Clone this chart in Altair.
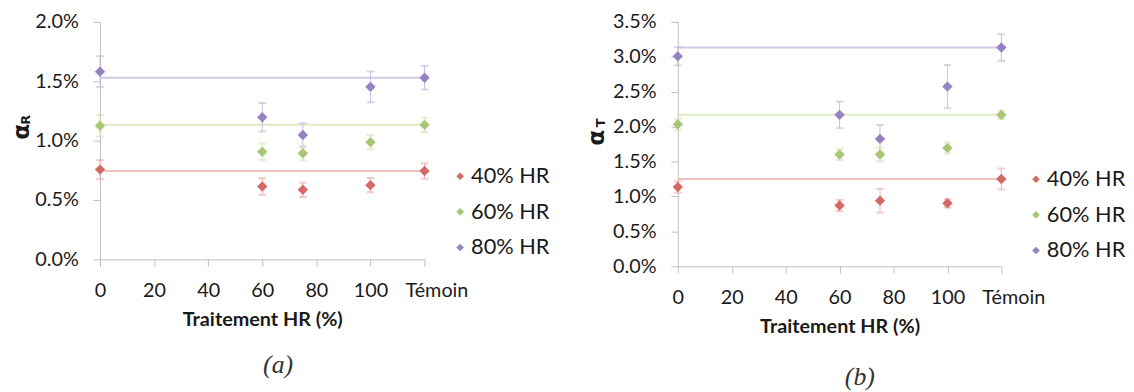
import altair as alt
import pandas as pd

# ---------------- data ----------------
SERIES = ["40% HR", "60% HR", "80% HR"]
TREATMENT = [0, 60, 75, 100, 120]          # 120 = "Témoin"
X_TICKS = [0, 20, 40, 60, 80, 100, 120]

# panel (a) alpha_R (%)
AR_40 = [0.756, 0.614, 0.586, 0.625, 0.744]
AR_60 = [1.125, 0.906, 0.894, 0.986, 1.133]
AR_80 = [1.581, 1.197, 1.047, 1.453, 1.530]
ER_40 = [0.08, 0.07, 0.06, 0.06, 0.065]
ER_60 = [0.09, 0.07, 0.06, 0.06, 0.06]
ER_80 = [0.13, 0.12, 0.10, 0.13, 0.10]
YA_TICKS = [0.0, 0.5, 1.0, 1.5, 2.0]

# panel (b) alpha_T (%)
AT_40 = [1.136, 0.870, 0.940, 0.902, 1.251]
AT_60 = [2.034, 1.601, 1.601, 1.694, 2.169]
AT_80 = [3.007, 2.169, 1.824, 2.574, 3.133]
ET_40 = [0.08, 0.08, 0.17, 0.06, 0.15]
ET_60 = [0.08, 0.08, 0.10, 0.08, 0.06]
ET_80 = [0.13, 0.19, 0.20, 0.31, 0.19]
YB_TICKS = [0.0, 0.5, 1.0, 1.5, 2.0, 2.5, 3.0, 3.5]

X_TITLE = "Traitement HR (%)"
SYMBOL = "α"
SUBSCRIPTS = ["R", "T"]
CAPTIONS = ["(a)", "(b)"]

POINT_COLORS = ["#D46A67", "#A7C774", "#9682C0"]
LIGHT_COLORS = ["#EDB0AF", "#D5E6B8", "#C6BDE0"]
AXIS_GRAY = "#BFBFBF"
TEXT = "#1a1a1a"


def points_df(vals, errs):
    rows = []
    for s, v, e in zip(SERIES, vals, errs):
        for x, yv, ev in zip(TREATMENT, v, e):
            rows.append({"x": x, "series": s, "y": yv, "lo": yv - ev, "hi": yv + ev})
    return pd.DataFrame(rows)


def ref_df(vals):
    return pd.DataFrame({
        "series": SERIES,
        "y": [v[-1] for v in vals],
        "x0": [TREATMENT[0]] * 3,
        "x1": [TREATMENT[-1]] * 3,
    })


def text_layer(txt, pos, **kw):
    return alt.Chart(pd.DataFrame({"t": [txt]})).mark_text(
        align=kw.pop("align", "center"), baseline="middle", **kw
    ).encode(x=alt.value(pos[0]), y=alt.value(pos[1]), text="t:N")


def panel(vals, errs, yticks, w, h, sub, caption, alpha_pos, sub_pos, cap_pos, leg_x, leg_rows):
    df = points_df(vals, errs)
    rdf = ref_df(vals)
    xs = alt.Scale(domain=[0, 120], nice=False, zero=False)
    ys = alt.Scale(domain=[yticks[0], yticks[-1]], nice=False, zero=False)
    xaxis = alt.Axis(
        values=X_TICKS, title=X_TITLE,
        labelExpr="datum.value == 120 ? 'Témoin' : datum.label",
        labelOffset={"condition": {"test": "datum.value == 120", "value": 12}, "value": 0},
        labelFlush=False, labelOverlap=False, labelPadding=15, titlePadding=9,
        tickSize=7, grid=False,
    )
    yaxis = alt.Axis(
        values=yticks, title=None,
        labelExpr="format(datum.value, '.1f') + '%'",
        labelPadding=15, tickSize=7, grid=False, labelOverlap=False,
    )
    stroke = alt.Stroke("series:N", scale=alt.Scale(domain=SERIES, range=LIGHT_COLORS), legend=None)
    color = alt.Color("series:N", scale=alt.Scale(domain=SERIES, range=POINT_COLORS), legend=None)

    lines = alt.Chart(rdf).mark_rule(strokeWidth=2, strokeOpacity=0.8).encode(
        x=alt.X("x0:Q", scale=xs, axis=xaxis),
        x2="x1:Q",
        y=alt.Y("y:Q", scale=ys, axis=yaxis),
        stroke=stroke,
    )
    base = alt.Chart(df)
    bars = base.mark_rule(strokeWidth=1).encode(
        x=alt.X("x:Q", scale=xs, axis=xaxis), y=alt.Y("lo:Q", scale=ys, axis=yaxis), y2="hi:Q",
        stroke=stroke,
    )
    cap_lo = base.mark_tick(orient="horizontal", size=7, thickness=1, filled=False, strokeWidth=1).encode(
        x=alt.X("x:Q", scale=xs, axis=xaxis), y=alt.Y("lo:Q", scale=ys, axis=yaxis), stroke=stroke,
    )
    cap_hi = base.mark_tick(orient="horizontal", size=7, thickness=1, filled=False, strokeWidth=1).encode(
        x=alt.X("x:Q", scale=xs, axis=xaxis), y=alt.Y("hi:Q", scale=ys, axis=yaxis), stroke=stroke,
    )
    pts = base.mark_point(shape="diamond", filled=True, size=110, opacity=1).encode(
        x=alt.X("x:Q", scale=xs, axis=xaxis), y=alt.Y("y:Q", scale=ys, axis=yaxis), color=color,
    )
    layers = [lines, bars, cap_lo, cap_hi, pts]

    # legend entries (one per series), coloured through the same colour scale
    for s, ly in zip(SERIES, leg_rows):
        sym = alt.Chart(pd.DataFrame({"series": [s]})).mark_point(
            shape="diamond", filled=True, size=60, opacity=1
        ).encode(x=alt.value(leg_x), y=alt.value(ly), color=color)
        lab = text_layer(s, (leg_x + 11, ly), align="left", font="Lato", fontSize=22, color=TEXT)
        layers += [sym, lab]

    layers += [
        text_layer(SYMBOL, alpha_pos, font="DejaVu Sans", fontWeight="bold", fontSize=23,
                   angle=270, color=TEXT),
        text_layer(sub, sub_pos, font="DejaVu Sans", fontWeight="bold", fontSize=13,
                   angle=270, color=TEXT),
        text_layer(caption, cap_pos, font="Liberation Serif", fontStyle="italic",
                   fontSize=26, color="#333333"),
    ]
    return alt.layer(*layers).properties(width=w, height=h)


pa = panel([AR_40, AR_60, AR_80], [ER_40, ER_60, ER_80], YA_TICKS, 328, 240,
           SUBSCRIPTS[0], CAPTIONS[0],
           alpha_pos=(-79, 111), sub_pos=(-75, 99), cap_pos=(180, 347),
           leg_x=364, leg_rows=[156, 192, 228])
pb = panel([AT_40, AT_60, AT_80], [ET_40, ET_60, ET_80], YB_TICKS, 327, 247,
           SUBSCRIPTS[1], CAPTIONS[1],
           alpha_pos=(-82, 117), sub_pos=(-78, 102), cap_pos=(184, 359),
           leg_x=362, leg_rows=[159, 195, 231])

chart = alt.hconcat(pa, pb, spacing=36).properties(
    padding={"left": 3, "top": 2, "right": 0, "bottom": 0}
).configure_view(stroke=None).configure_axis(
    domainColor=AXIS_GRAY, tickColor=AXIS_GRAY, domainWidth=1,
    labelFont="Lato", labelFontSize=20, labelColor=TEXT,
    titleFont="Lato", titleFontSize=20, titleFontWeight="bold", titleColor=TEXT,
)

chart.save("out.html", embed_options={"renderer": "svg", "actions": False})
